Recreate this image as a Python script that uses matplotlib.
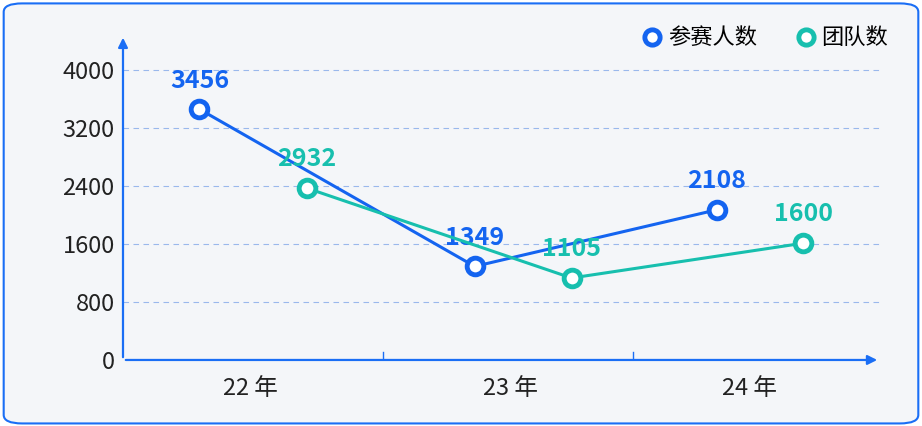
import matplotlib
matplotlib.use("Agg")
import matplotlib.pyplot as plt
from matplotlib.patches import FancyBboxPatch
from matplotlib.lines import Line2D

plt.rcParams['font.family'] = ['Noto Sans CJK SC', 'DejaVu Sans']

categories = ["22 年", "23 年", "24 年"]
y_ticks = [0, 800, 1600, 2400, 3200, 4000]

people_labels = [3456, 1349, 2108]
people_values = [3456, 1290, 2070]
people_x = [-0.21, 0.87, 1.82]

team_labels = [2932, 1105, 1600]
team_values = [2370, 1130, 1610]
team_x = [0.21, 1.25, 2.16]

BLUE = "#1464f0"
TEAL = "#17bfae"
BG = "#f4f6f9"

fig = plt.figure(figsize=(9.22, 4.26), dpi=100)
fig.patch.set_facecolor("white")
border = FancyBboxPatch((0.004, 0.006), 0.992, 0.986, boxstyle="round,pad=0,rounding_size=0.02",
                        transform=fig.transFigure, facecolor=BG, edgecolor="#1a6ef5",
                        linewidth=1.5, zorder=-10)
fig.patches.append(border)

ax = fig.add_axes([0.1334, 0.155, 0.821, 0.763])
ax.set_zorder(2)
ax.set_facecolor("none")
ax.set_xlim(-0.51, 2.46)
ax.set_ylim(0, 4480)
for s in ax.spines.values():
    s.set_visible(False)

for v in y_ticks[1:]:
    ax.axhline(v, color="#9ab8ec", linestyle=(0, (5, 4)), linewidth=0.8, zorder=0)

ax.annotate("", xy=(2.46, 0), xytext=(-0.51, 0),
            arrowprops=dict(arrowstyle="-|>", color="#1a6ef5", lw=1.6, mutation_scale=14))
ax.annotate("", xy=(-0.51, 4480), xytext=(-0.51, 0),
            arrowprops=dict(arrowstyle="-|>", color="#1a6ef5", lw=1.6, mutation_scale=14))
for sx in [0.51, 1.49]:
    ax.plot([sx, sx], [0, 110], color="#1a6ef5", lw=1)

ax.set_yticks(y_ticks)
ax.set_yticklabels([str(v) for v in y_ticks], fontsize=17, color="#222222")
ax.set_xticks([-0.01, 1.01, 1.95])
ax.set_xticklabels(categories, fontsize=17, color="#222222")
ax.tick_params(length=0, pad=6)
ax.tick_params(axis="x", pad=12)

for xs, ys, labs, c in [(people_x, people_values, people_labels, BLUE),
                        (team_x, team_values, team_labels, TEAL)]:
    ax.plot(xs, ys, color=c, lw=2.2, marker="o", markersize=12, markerfacecolor="white",
            markeredgewidth=3.5, markeredgecolor=c, zorder=3)
    for x, y, l in zip(xs, ys, labs):
        ax.text(x, y + 230, str(l), color=c, fontsize=18, fontweight="bold", ha="center", va="bottom")

handles = [Line2D([], [], linestyle="none", marker="o", markersize=11, markerfacecolor="white",
                  markeredgewidth=3.5, markeredgecolor=c) for c in (BLUE, TEAL)]
fig.legend(handles, ["参赛人数", "团队数"], loc="upper right", bbox_to_anchor=(0.985, 0.985),
           ncol=2, frameon=False, fontsize=16, handletextpad=0.1, columnspacing=1.6,
           handlelength=1.2)

fig.savefig("out.png", dpi=100, facecolor="white")
